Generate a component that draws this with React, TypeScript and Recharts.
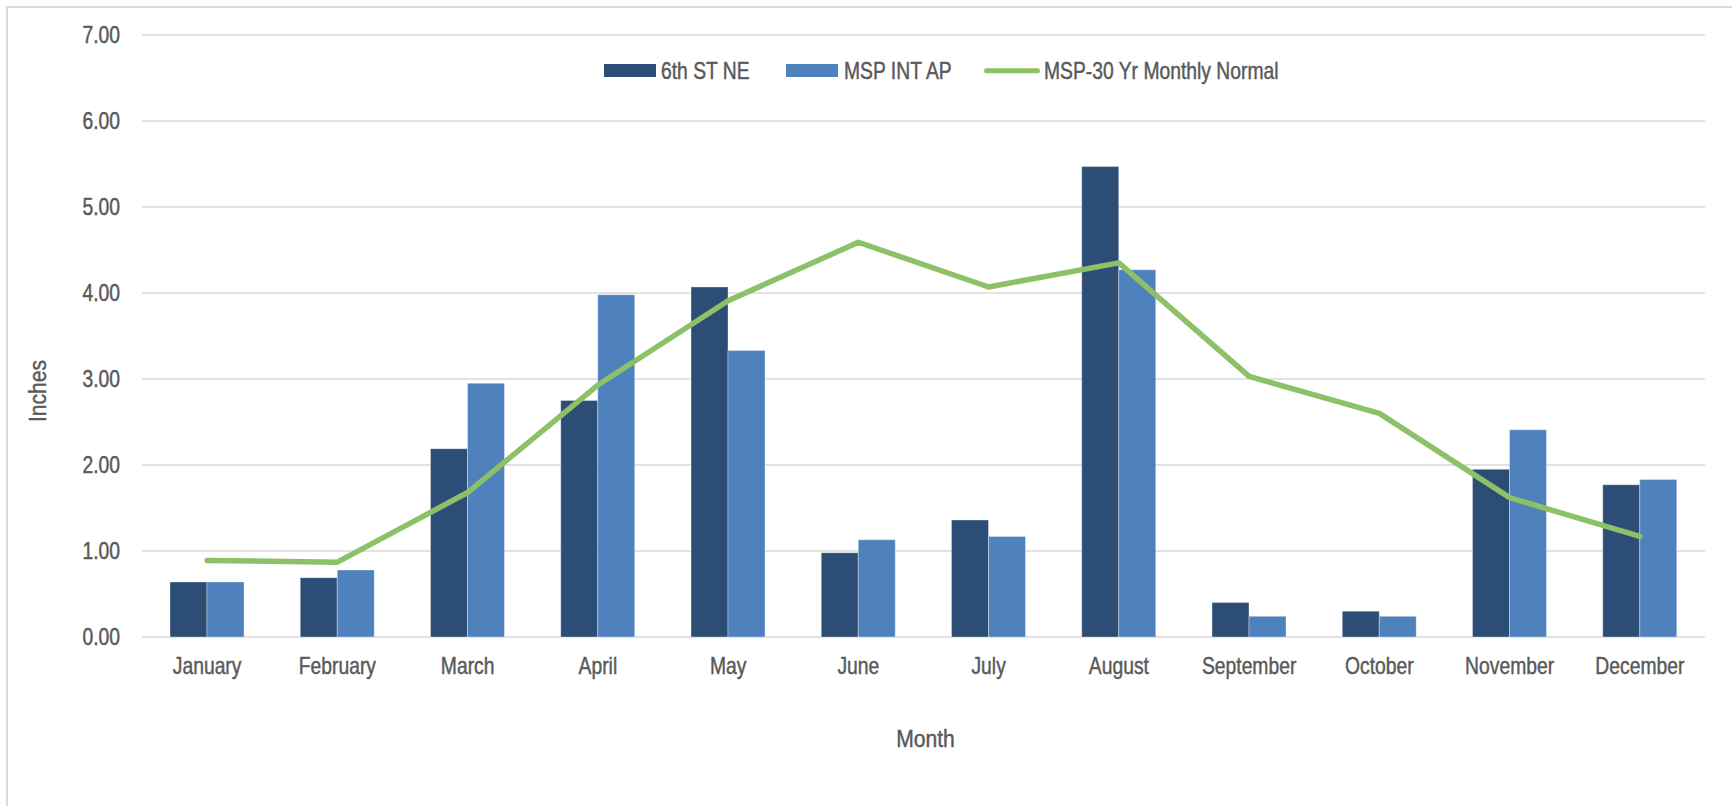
import {
  Bar,
  CartesianGrid,
  ComposedChart,
  Legend,
  Line,
  XAxis,
  YAxis,
} from "recharts";

const months = [
  "January",
  "February",
  "March",
  "April",
  "May",
  "June",
  "July",
  "August",
  "September",
  "October",
  "November",
  "December",
];
const sixthStNe = [0.64, 0.69, 2.19, 2.75, 4.07, 0.98, 1.36, 5.47, 0.4, 0.3, 1.95, 1.77];
const mspIntAp = [0.64, 0.78, 2.95, 3.98, 3.33, 1.13, 1.17, 4.27, 0.24, 0.24, 2.41, 1.83];
const mspNormal = [0.89, 0.87, 1.68, 2.93, 3.91, 4.59, 4.07, 4.35, 3.03, 2.6, 1.62, 1.17];
const yTicks = [0, 1, 2, 3, 4, 5, 6, 7];

const data = months.map((month, i) => ({
  month,
  sixth: sixthStNe[i],
  msp: mspIntAp[i],
  normal: mspNormal[i],
}));

// Liberation Sans squeezed horizontally, to look like the narrow font of the original
const FONT = '"Liberation Sans", Arial, sans-serif';
const SQUEEZE = 0.84;
const TEXT = "#595959";
// thin outline makes the text a bit heavier, like the original
const heavy = { stroke: TEXT, strokeWidth: 0.45 };

function XTick(props: any) {
  const { x, y, payload } = props;
  return (
    <g transform={`translate(${x},${y})`}>
      <text
        transform={`scale(${SQUEEZE},1)`}
        textAnchor="middle"
        dy="0.71em"
        fill={TEXT}
        fontSize={23}
        fontFamily={FONT}
        {...heavy}
      >
        {payload.value}
      </text>
    </g>
  );
}

function YTick(props: any) {
  const { x, y, payload } = props;
  return (
    <g transform={`translate(${x},${y})`}>
      <text
        transform={`scale(${SQUEEZE},1)`}
        textAnchor="end"
        dy="0.355em"
        fill={TEXT}
        fontSize={23}
        fontFamily={FONT}
        {...heavy}
      >
        {Number(payload.value).toFixed(2)}
      </text>
    </g>
  );
}

const legendSlots = [
  { sx: 0, tx: 57 },
  { sx: 182, tx: 240 },
  { sx: 380, tx: 440 },
];

function LegendContent(props: any) {
  const payload = props.payload ?? [];
  return (
    <svg width={720} height={30} style={{ display: "block" }}>
      {payload.map((p: any, i: number) => {
        const slot = legendSlots[i] ?? legendSlots[0];
        return (
          <g key={i}>
            {p.type === "line" ? (
              <line
                x1={slot.sx + 2.5}
                x2={slot.sx + 53.5}
                y1={14.7}
                y2={14.7}
                stroke={p.color}
                strokeWidth={5}
                strokeLinecap="round"
              />
            ) : (
              <rect x={slot.sx} y={8} width={52} height={13} fill={p.color} />
            )}
            <g transform={`translate(${slot.tx},14.5)`}>
              <text
                transform={`scale(${SQUEEZE},1)`}
                dy="0.355em"
                fill={TEXT}
                fontSize={23}
                fontFamily={FONT}
                {...heavy}
              >
                {p.value}
              </text>
            </g>
          </g>
        );
      })}
    </svg>
  );
}

function App() {
  return (
    <div>
      <div
        style={{
          position: "absolute",
          left: 6,
          top: 6,
          width: 1726,
          height: 800,
          borderLeft: "2px solid #d9d9d9",
          borderTop: "2px solid #d9d9d9",
        }}
      />
      <div style={{ position: "absolute", left: 0, top: 0 }}>
        <ComposedChart
          width={1732}
          height={806}
          data={data}
          margin={{ top: 35, right: 27, bottom: 109, left: 0 }}
          barGap={0}
          style={{ fontFamily: FONT }}
        >
          <CartesianGrid vertical={false} stroke="#d9d9d9" strokeWidth={1.5} />
          <XAxis
            dataKey="month"
            height={60}
            interval={0}
            tickLine={false}
            axisLine={false}
            tickSize={0}
            tickMargin={21}
            tick={<XTick />}
            label={{
              content: (p: any) => {
                const vb = p.viewBox;
                const cx = vb.x + vb.width / 2 + 2;
                const cy = vb.y + 110;
                return (
                  <g transform={`translate(${cx},${cy})`}>
                    <text
                      transform={`scale(${SQUEEZE + 0.04},1)`}
                      textAnchor="middle"
                      fill={TEXT}
                      fontSize={24}
                      fontFamily={FONT}
                      {...heavy}
                    >
                      Month
                    </text>
                  </g>
                );
              },
            }}
          />
          <YAxis
            width={142}
            domain={[0, 7]}
            ticks={yTicks}
            tickLine={false}
            axisLine={false}
            tickSize={0}
            tickMargin={22}
            tick={<YTick />}
            label={{
              content: (p: any) => {
                const vb = p.viewBox;
                const cx = vb.x + 38;
                const cy = vb.y + vb.height / 2 + 55;
                return (
                  <g transform={`translate(${cx},${cy}) rotate(-90)`}>
                    <text
                      transform={`scale(${SQUEEZE + 0.04},1)`}
                      textAnchor="middle"
                      dominantBaseline="central"
                      fill={TEXT}
                      fontSize={24}
                      fontFamily={FONT}
                      {...heavy}
                    >
                      Inches
                    </text>
                  </g>
                );
              },
            }}
          />
          <Bar
            dataKey="sixth"
            name="6th ST NE"
            fill="#2c4d75"
            stroke="#ffffff"
            strokeOpacity={0.35}
            strokeWidth={1}
            barSize={37}
            isAnimationActive={false}
          />
          <Bar
            dataKey="msp"
            name="MSP INT AP"
            fill="#4f81bd"
            stroke="#ffffff"
            strokeOpacity={0.35}
            strokeWidth={1}
            barSize={37}
            isAnimationActive={false}
          />
          <Line
            type="linear"
            dataKey="normal"
            name="MSP-30 Yr Monthly Normal"
            stroke="#8cc168"
            strokeWidth={5.5}
            strokeLinecap="round"
            strokeLinejoin="round"
            dot={false}
            activeDot={false}
            isAnimationActive={false}
          />
          <Legend
            verticalAlign="middle"
            align="center"
            content={LegendContent}
            wrapperStyle={{
              position: "absolute",
              left: 604,
              top: 56,
              width: 720,
              height: 30,
            }}
          />
        </ComposedChart>
      </div>
    </div>
  );
}

export default App;
